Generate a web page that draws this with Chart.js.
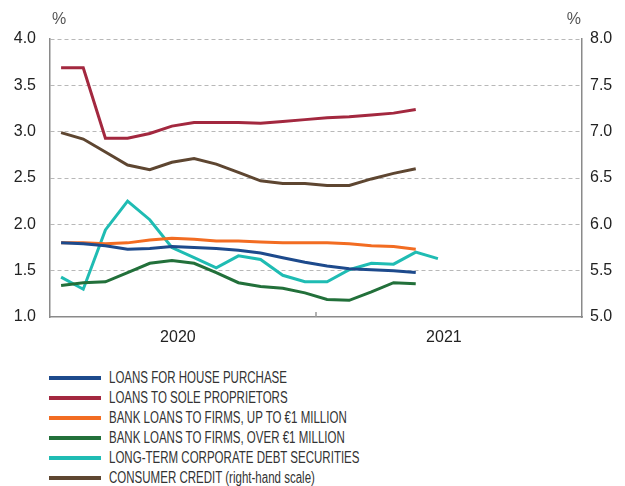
<!DOCTYPE html>
<html>
<head>
<meta charset="utf-8">
<script src="https://cdn.jsdelivr.net/npm/chart.js@4"></script>
<style>
    body { margin: 0; background: #fff; }
    #wrap { width: 625px; height: 350px; position: relative; }
    #legend { margin: 18px 0 0 49px; font-family: "Liberation Sans", Arial, sans-serif; font-size: 16px; color: #333; }
    .item { height: 20px; line-height: 20px; display: flex; align-items: center; white-space: nowrap; }
    .swatch { width: 52px; height: 4px; margin-right: 8px; flex: none; }
    .txt { display: inline-block; transform: scaleX(0.72); transform-origin: left center; }
</style>
</head>
<body>
<div id="wrap"><canvas id="chart" width="625" height="350"></canvas></div>
<div id="legend"></div>
<script>
// monthly data, Jan 2020 - Dec 2021
const months = ['Jan 20', 'Feb 20', 'Mar 20', 'Apr 20', 'May 20', 'Jun 20', 'Jul 20', 'Aug 20', 'Sep 20', 'Oct 20', 'Nov 20', 'Dec 20',
                'Jan 21', 'Feb 21', 'Mar 21', 'Apr 21', 'May 21', 'Jun 21', 'Jul 21', 'Aug 21', 'Sep 21', 'Oct 21', 'Nov 21', 'Dec 21'];
const yearLabels = { 5: '2020', 17: '2021' };
const leftTicks = [1.0, 1.5, 2.0, 2.5, 3.0, 3.5, 4.0];

const housePurchase = [1.80, 1.79, 1.77, 1.73, 1.74, 1.76, 1.75, 1.74, 1.72, 1.69, 1.64, 1.59, 1.55, 1.52, 1.51, 1.50, 1.48];
const soleProprietors = [3.69, 3.69, 2.93, 2.93, 2.98, 3.06, 3.10, 3.10, 3.10, 3.09, 3.11, 3.13, 3.15, 3.16, 3.18, 3.20, 3.24];
const firmsUpTo1m = [1.80, 1.80, 1.79, 1.80, 1.83, 1.85, 1.84, 1.82, 1.82, 1.81, 1.80, 1.80, 1.80, 1.79, 1.77, 1.76, 1.73];
const firmsOver1m = [1.34, 1.37, 1.38, 1.48, 1.58, 1.61, 1.58, 1.48, 1.37, 1.33, 1.31, 1.26, 1.19, 1.18, 1.27, 1.37, 1.36];
const corpBonds = [1.43, 1.30, 1.94, 2.25, 2.05, 1.75, 1.64, 1.53, 1.66, 1.62, 1.45, 1.38, 1.38, 1.51, 1.58, 1.57, 1.70, 1.63];
const consumerCredit = [6.99, 6.92, 6.78, 6.64, 6.59, 6.67, 6.71, 6.65, 6.56, 6.47, 6.44, 6.44, 6.42, 6.42, 6.49, 6.55, 6.60];

const series = [
    { label: 'LOANS FOR HOUSE PURCHASE', data: housePurchase, color: '#1d4a8c', axis: 'y' },
    { label: 'LOANS TO SOLE PROPRIETORS', data: soleProprietors, color: '#a3283f', axis: 'y' },
    { label: 'BANK LOANS TO FIRMS, UP TO €1 MILLION', data: firmsUpTo1m, color: '#f26c22', axis: 'y' },
    { label: 'BANK LOANS TO FIRMS, OVER €1 MILLION', data: firmsOver1m, color: '#22703a', axis: 'y' },
    { label: 'LONG-TERM CORPORATE DEBT SECURITIES', data: corpBonds, color: '#1fbcb3', axis: 'y' },
    { label: 'CONSUMER CREDIT (right-hand scale)', data: consumerCredit, color: '#5e4631', axis: 'y1' }
];

const tickFont = { family: '"Liberation Sans", Arial, sans-serif', size: 16 };

// year divider tick + "%" unit labels
const extras = {
    id: 'extras',
    afterDraw(chart) {
        const c = chart.ctx, a = chart.chartArea, x = chart.scales.x;
        const xb = (x.getPixelForValue(11) + x.getPixelForValue(12)) / 2;
        c.save();
        c.strokeStyle = '#999';
        c.lineWidth = 1.5;
        c.beginPath();
        c.moveTo(xb, a.bottom - 5);
        c.lineTo(xb, a.bottom);
        c.stroke();
        c.fillStyle = '#555';
        c.font = '16px "Liberation Sans", Arial, sans-serif';
        c.textBaseline = 'middle';
        c.textAlign = 'left';
        c.fillText('%', a.left + 2, 20);
        c.textAlign = 'right';
        c.fillText('%', a.right - 1, 20);
        c.restore();
    }
};

new Chart(document.getElementById('chart').getContext('2d'), {
    type: 'line',
    data: {
        labels: months,
        datasets: series.map(s => ({
            label: s.label,
            data: s.data,
            borderColor: s.color,
            backgroundColor: s.color,
            borderWidth: 3,
            pointRadius: 0,
            tension: 0,
            fill: false,
            yAxisID: s.axis
        }))
    },
    options: {
        responsive: false,
        animation: false,
        layout: { padding: { top: 39 } },
        plugins: { legend: { display: false }, tooltip: { enabled: false } },
        scales: {
            x: {
                offset: true,
                afterFit: s => { s.height = 33; },
                grid: { display: false, drawTicks: false },
                border: { color: '#8a8a8a', width: 1.5 },
                ticks: {
                    autoSkip: false, maxRotation: 0, padding: 11, labelOffset: 6,
                    color: '#222', font: tickFont,
                    callback: (v, i) => yearLabels[i] || ''
                }
            },
            y: {
                position: 'left', min: 1, max: 4,
                afterFit: s => { s.width = 50; },
                afterBuildTicks: s => { s.ticks = leftTicks.map(v => ({ value: v })); },
                grid: {
                    drawTicks: false,
                    color: ctx => ctx.tick && ctx.tick.value === 1 ? 'rgba(0,0,0,0)' : '#b8b8b8'
                },
                border: { color: '#8a8a8a', width: 1.5, dash: [4, 3] },
                ticks: { padding: 14, color: '#222', font: tickFont, callback: v => v.toFixed(1) }
            },
            y1: {
                position: 'right', min: 5, max: 8,
                afterFit: s => { s.width = 43; },
                afterBuildTicks: s => { s.ticks = leftTicks.map(v => ({ value: v + 4 })); },
                grid: { display: false, drawTicks: false },
                border: { color: '#8a8a8a', width: 1.5 },
                ticks: { padding: 8, color: '#222', font: tickFont, callback: v => v.toFixed(1) }
            }
        }
    },
    plugins: [extras]
});

const legendEl = document.getElementById('legend');
series.forEach(s => {
    const row = document.createElement('div');
    row.className = 'item';
    row.innerHTML = '<span class="swatch" style="background:' + s.color + '"></span><span class="txt">' + s.label + '</span>';
    legendEl.appendChild(row);
});
</script>
</body>
</html>
